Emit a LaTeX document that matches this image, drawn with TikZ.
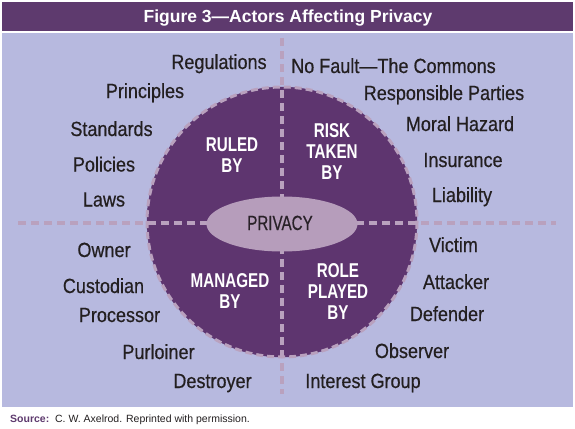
\documentclass[tikz,border=0pt]{standalone}
\usepackage{fontspec}
\setmainfont{Liberation Sans}
\newfontfamily\narrowfont[FakeStretch=0.88, FakeBold=0.5]{Liberation Sans}
\newfontfamily\tightfont[FakeStretch=0.76]{Liberation Sans}
\newfontfamily\slimfont[FakeStretch=0.74, FakeBold=0.5]{Liberation Sans}
\usetikzlibrary{positioning, shapes.geometric}
\definecolor{barpurple}{HTML}{5E3A6E}
\definecolor{panelblue}{HTML}{B7B9DF}
\definecolor{discpurple}{HTML}{5E356F}
\definecolor{dashmauve}{HTML}{B9A1BE}
\definecolor{corelilac}{HTML}{B69DBB}
\definecolor{inkdark}{HTML}{231F20}

\begin{document}
\begin{tikzpicture}[x=1pt, y=-1pt,
  actor/.style={font=\narrowfont\fontsize{20.5}{22}\selectfont, text=inkdark, anchor=base, inner sep=0pt},
  role/.style={font=\tightfont\bfseries\fontsize{20}{21}\selectfont, text=white, align=center, inner sep=0pt},
  axis/.style={dashmauve, line width=4pt, dash pattern=on 8pt off 5pt}]
  \useasboundingbox (0,0) rectangle (575,428);

  % Titelleiste und Feld
  \fill[barpurple] (2,2) rectangle (573,31);
  \node[font=\bfseries\fontsize{17.5}{19}\selectfont, text=white, anchor=base] (title) at (288,22.5) {Figure 3---Actors Affecting Privacy};
  \fill[panelblue] (2,33) rectangle (573,407);

  % Scheibe mit Achsen
  \draw[discpurple, fill=discpurple] (282,222) circle (135);
  \draw[axis] (18,223) -- (556,223);
  \draw[axis] (282,38) -- (282,394);
  \draw[dashmauve, line width=3pt, dash pattern=on 7pt off 4pt] (282,222) circle (135);
  \node[ellipse, draw=none, fill=corelilac, minimum width=151, minimum height=55, inner sep=0pt] (core) at (282,224) {};
  \node[font=\slimfont\fontsize{20.5}{22}\selectfont, text=inkdark!90!discpurple, anchor=base, inner sep=0pt] (privacy) at (280,230) {PRIVACY};

  % Quadranten
  \node[role] (ruled) at (232,155) {RULED\\BY};
  \node[role] (risk) at (332,151.5) {RISK\\TAKEN\\BY};
  \node[role] (managed) at (230,291.5) {MANAGED\\BY};
  \node[role] (played) at (338,291.5) {ROLE\\PLAYED\\BY};

  % Akteure oben links
  \node[actor] (regulations) at (219,69) {Regulations};
  \node[actor] (principles) at (145,98) {Principles};
  \node[actor] (standards) at (111.5,136) {Standards};
  \node[actor] (policies) at (104,171.5) {Policies};
  \node[actor] (laws) at (104,206.5) {Laws};

  % Akteure oben rechts
  \node[actor] (nofault) at (393.5,73) {No Fault\textemdash The Commons};
  \node[actor] (responsible) at (444,100) {Responsible Parties};
  \node[actor] (moral) at (460,131) {Moral Hazard};
  \node[actor] (insurance) at (463,167) {Insurance};
  \node[actor] (liability) at (462,202) {Liability};

  % Akteure unten links
  \node[actor] (owner) at (104,257) {Owner};
  \node[actor] (custodian) at (103.5,293) {Custodian};
  \node[actor] (processor) at (119.5,322) {Processor};
  \node[actor] (purloiner) at (158.5,359) {Purloiner};
  \node[actor] (destroyer) at (212.5,388) {Destroyer};

  % Akteure unten rechts
  \node[actor] (victim) at (453.5,252) {Victim};
  \node[actor] (attacker) at (456,289) {Attacker};
  \node[actor] (defender) at (447,321) {Defender};
  \node[actor] (observer) at (412,358) {Observer};
  \node[actor] (interest) at (363,388) {Interest Group};

  % Quelle
  \node[font=\fontsize{10.5}{12}\selectfont, text=inkdark, anchor=base west, inner sep=0pt] (source) at (10,422)
    {\textcolor{barpurple}{\textbf{Source:}}\ \ C. W. Axelrod. Reprinted with permission.};
\end{tikzpicture}
\end{document}
